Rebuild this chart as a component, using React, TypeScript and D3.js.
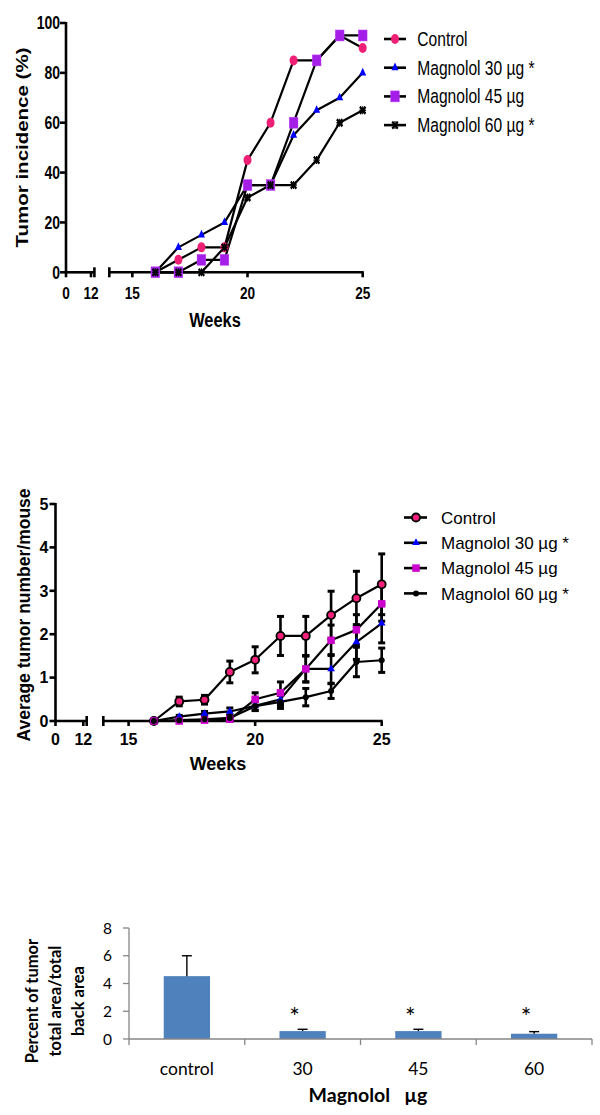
import React from "react";
import * as d3 from "d3";

// ---- data ----
const weeks = [16, 17, 18, 19, 20, 21, 22, 23, 24, 25];
const weekTicks = [0, 12, 15, 20, 25];

const incidenceControl = [0, 5, 10, 10, 45, 60, 85, 85, 95, 90];
const incidence30 = [0, 10, 15, 20, 35, 35, 55, 65, 70, 80];
const incidence45 = [0, 0, 5, 5, 35, 35, 60, 85, 95, 95];
const incidence60 = [0, 0, 0, 10, 30, 35, 35, 45, 60, 65];
const incidenceTicks = [0, 20, 40, 60, 80, 100];

const avgControl = [0, 0.45, 0.49, 1.13, 1.41, 1.96, 1.96, 2.44, 2.83, 3.15];
const errControl = [0, 0.1, 0.1, 0.25, 0.3, 0.45, 0.45, 0.55, 0.62, 0.7];
const avg30 = [0, 0.1, 0.17, 0.22, 0.35, 0.5, 1.2, 1.2, 1.82, 2.25];
const err30 = [0, 0.03, 0.05, 0.08, 0.1, 0.15, 0.3, 0.33, 0.4, 0.45];
const avg45 = [0, 0, 0.02, 0.04, 0.5, 0.65, 1.2, 1.86, 2.1, 2.7];
const err45 = [0, 0, 0.02, 0.03, 0.15, 0.25, 0.3, 0.35, 0.35, 0.4];
const avg60 = [0, 0.02, 0.04, 0.07, 0.34, 0.44, 0.55, 0.69, 1.36, 1.4];
const err60 = [0, 0.02, 0.03, 0.05, 0.1, 0.15, 0.2, 0.17, 0.34, 0.28];
const avgTicks = [0, 1, 2, 3, 4, 5];

const seriesNames = ["Control", "Magnolol 30 µg *", "Magnolol 45 µg", "Magnolol 60 µg *"];

const areaGroups = ["control", "30", "45", "60"];
const areaValues = [4.53, 0.57, 0.57, 0.38];
const areaErrors = [1.47, 0.13, 0.13, 0.15];
const areaStars = ["", "*", "*", "*"];
const areaTicks = [0, 2, 4, 6, 8];

const ARIAL = "'Liberation Sans', Arial, sans-serif";
const CALIBRI = "Lato, 'Open Sans', sans-serif";

// top panel is squeezed horizontally in the original figure
const SQ = 0.8;

const sym = (type, size) => d3.symbol().type(type).size(size)();

const Marker = ({ kind, x, y, sx = 1, small = false }) => {
  const t = `translate(${x},${y}) scale(${sx},1)`;
  if (kind === 0) {
    return small
      ? <circle transform={t} r={4} fill="#f2207a" stroke="#000" strokeWidth={1.8} />
      : <circle transform={t} r={5} fill="#ee1f74" />;
  }
  if (kind === 1) {
    return <path transform={t} d={sym(d3.symbolTriangle, small ? 26 : 34)} fill="#0000ff" />;
  }
  if (kind === 2) {
    const s = small ? 7.5 : 11;
    return <rect transform={t} x={-s / 2} y={-s / 2} width={s} height={s}
      fill={small ? "#cc00cc" : "#a51ee8"} stroke={small ? "none" : "#c050ff"} strokeWidth={0.5} />;
  }
  return small
    ? <circle transform={t} r={3} fill="#000" />
    : <g transform={t}>
        <path d="M-3.5,-3.5L3.5,3.5M-3.5,3.5L3.5,-3.5" stroke="#000" strokeWidth={2.6} />
        <path d="M0,-4V4M-4,0H4" stroke="#000" strokeWidth={1.4} />
      </g>;
};

const BrokenXAxis = ({ x, y0, sx, fontSize, labelY }) => {
  const b1 = x(12) + 3.4;
  const b2 = x(14);
  return (
    <g stroke="#000" strokeWidth={2.6} fill="none">
      <line x1={x(0) - 1} x2={b1} y1={y0} y2={y0} />
      <line x1={b1} x2={b1} y1={y0 - 5} y2={y0 + 5} />
      <line x1={b2} x2={x(25) + 1} y1={y0} y2={y0} />
      <line x1={b2} x2={b2} y1={y0 - 5} y2={y0 + 5} />
      {weekTicks.map((t) => (
        <line key={t} x1={x(t)} x2={x(t)} y1={y0} y2={y0 + 5} />
      ))}
      {weekTicks.map((t) => (
        <text key={"l" + t} transform={`translate(${x(t)},${labelY}) scale(${sx},1)`}
          textAnchor="middle" fontFamily={ARIAL} fontWeight="bold" fontSize={fontSize}
          fill="#000" stroke="none">{t}</text>
      ))}
    </g>
  );
};

const IncidenceChart = () => {
  const x = d3.scaleLinear().domain([0, 12, 14, 25]).range([66, 91, 109.3, 362.7]);
  const y = d3.scaleLinear().domain([0, 100]).range([272.3, 23]);
  const line = d3.line().x((d) => x(d[0])).y((d) => y(d[1]));
  const series = [incidenceControl, incidence30, incidence45, incidence60];
  const xAxisX = x(0);
  return (
    <g>
      {/* y axis */}
      <g stroke="#000" strokeWidth={2.6}>
        <line x1={xAxisX} x2={xAxisX} y1={y(100) - 1} y2={y(0)} />
        {incidenceTicks.map((t) => (
          <line key={t} x1={xAxisX - 6} x2={xAxisX} y1={y(t)} y2={y(t)} />
        ))}
      </g>
      {incidenceTicks.map((t) => (
        <text key={t} transform={`translate(60,${y(t) + 6.3}) scale(${SQ},1)`}
          textAnchor="end" fontFamily={ARIAL} fontWeight="bold" fontSize={17.5}>{t}</text>
      ))}
      <BrokenXAxis x={x} y0={y(0)} sx={SQ} fontSize={17} labelY={298.5} />
      <text transform={`translate(28,147.5) scale(${SQ},1) rotate(-90)`} textAnchor="middle"
        fontFamily={ARIAL} fontWeight="bold" fontSize={20.5}>Tumor incidence (%)</text>
      <text transform={`translate(215,327) scale(${SQ},1)`} textAnchor="middle"
        fontFamily={ARIAL} fontWeight="bold" fontSize={20.5}>Weeks</text>

      {series.map((vals, i) => (
        <path key={i} d={line(weeks.map((w, j) => [w, vals[j]]))} fill="none"
          stroke="#000" strokeWidth={2.2} strokeLinejoin="round" />
      ))}
      {series.map((vals, i) => (
        <g key={"m" + i}>
          {weeks.map((w, j) => <Marker key={j} kind={i} x={x(w)} y={y(vals[j])} sx={SQ} />)}
        </g>
      ))}

      {/* legend */}
      {seriesNames.map((name, i) => {
        const ly = 39 + i * 28.7;
        return (
          <g key={name}>
            <line x1={384} x2={406} y1={ly} y2={ly} stroke="#000" strokeWidth={2.6} />
            <Marker kind={i} x={395} y={ly} sx={SQ} />
            <text transform={`translate(417.3,${ly + 7}) scale(${SQ},1)`} fontFamily={ARIAL}
              fontSize={19.5}>{name}</text>
          </g>
        );
      })}
    </g>
  );
};

const AverageChart = () => {
  const x = d3.scaleLinear().domain([0, 12, 14, 25]).range([55.5, 83.3, 103.3, 381.7]);
  const y = d3.scaleLinear().domain([0, 5]).range([721, 504]);
  const line = d3.line().x((d) => x(d[0])).y((d) => y(d[1]));
  const series = [avgControl, avg30, avg45, avg60];
  const errs = [errControl, err30, err45, err60];
  const xAxisX = x(0);
  return (
    <g>
      <g stroke="#000" strokeWidth={2.6}>
        <line x1={xAxisX} x2={xAxisX} y1={y(5) - 1} y2={y(0)} />
        {avgTicks.map((t) => (
          <line key={t} x1={xAxisX - 6} x2={xAxisX} y1={y(t)} y2={y(t)} />
        ))}
      </g>
      {avgTicks.map((t) => (
        <text key={t} x={48.5} y={y(t) + 5.8} textAnchor="end" fontFamily={ARIAL}
          fontWeight="bold" fontSize={16}>{t}</text>
      ))}
      <BrokenXAxis x={x} y0={y(0)} sx={1} fontSize={16} labelY={745} />
      <text transform="translate(30,615) rotate(-90)" textAnchor="middle" fontFamily={ARIAL}
        fontWeight="bold" fontSize={17.5}>Average tumor number/mouse</text>
      <text x={218} y={770} textAnchor="middle" fontFamily={ARIAL} fontWeight="bold"
        fontSize={18}>Weeks</text>

      {/* error bars */}
      {series.map((vals, i) => (
        <g key={"e" + i} stroke="#000">
          {weeks.map((w, j) => {
            const e = errs[i][j];
            if (!e) return null;
            const cx = x(w);
            return (
              <g key={j}>
                <line x1={cx} x2={cx} y1={y(vals[j] - e)} y2={y(vals[j] + e)} strokeWidth={2.6} />
                <line x1={cx - 3.5} x2={cx + 3.5} y1={y(vals[j] + e)} y2={y(vals[j] + e)} strokeWidth={3} />
                <line x1={cx - 3.5} x2={cx + 3.5} y1={y(vals[j] - e)} y2={y(vals[j] - e)} strokeWidth={3} />
              </g>
            );
          })}
        </g>
      ))}
      {series.map((vals, i) => (
        <path key={i} d={line(weeks.map((w, j) => [w, vals[j]]))} fill="none"
          stroke="#000" strokeWidth={2.2} strokeLinejoin="round" />
      ))}
      {series.map((vals, i) => (
        <g key={"m" + i}>
          {weeks.map((w, j) => <Marker key={j} kind={i} x={x(w)} y={y(vals[j])} small />)}
        </g>
      ))}

      {seriesNames.map((name, i) => {
        const ly = 517.5 + i * 25.3;
        return (
          <g key={name}>
            <line x1={404} x2={427} y1={ly} y2={ly} stroke="#000" strokeWidth={2.6} />
            <Marker kind={i} x={416} y={ly} small />
            <text x={441} y={ly + 6.3} fontFamily={ARIAL} fontSize={17}>{name}</text>
          </g>
        );
      })}
    </g>
  );
};

const AreaChart = () => {
  const x = d3.scaleBand().domain(areaGroups).range([129, 592]).paddingInner(0.6).paddingOuter(0.3);
  const y = d3.scaleLinear().domain([0, 8]).range([1039, 928]);
  const step = x.step();
  const bounds = d3.range(areaGroups.length + 1).map((i) => 129 + i * step);
  return (
    <g>
      {areaGroups.map((g, i) => {
        const bx = x(g);
        const cx = bx + x.bandwidth() / 2;
        const top = y(areaValues[i]);
        const et = y(areaValues[i] + areaErrors[i]);
        return (
          <g key={g}>
            <rect x={bx} y={top} width={x.bandwidth()} height={y(0) - top} fill="#4f81bd" />
            <line x1={cx} x2={cx} y1={top} y2={et} stroke="#000" strokeWidth={1.4} />
            <line x1={cx - 5} x2={cx + 5} y1={et} y2={et} stroke="#000" strokeWidth={1.4} />
            {areaStars[i] && (
              <text x={cx - 8} y={1026} textAnchor="middle" fontFamily={CALIBRI} fontSize={25}>
                {areaStars[i]}
              </text>
            )}
            <text x={cx} y={1074.5} textAnchor="middle" fontFamily={CALIBRI} fontSize={17.5}>{g}</text>
          </g>
        );
      })}
      <g stroke="#868686" strokeWidth={1.3}>
        <line x1={129} x2={129} y1={y(8)} y2={y(0)} />
        <line x1={129} x2={592} y1={y(0)} y2={y(0)} />
        {areaTicks.map((t) => (
          <line key={t} x1={123} x2={129} y1={y(t)} y2={y(t)} />
        ))}
        {bounds.map((b, i) => (
          <line key={i} x1={b} x2={b} y1={y(0)} y2={y(0) + 6} />
        ))}
      </g>
      {areaTicks.map((t) => (
        <text key={t} x={112} y={y(t) + 5.5} textAnchor="end" fontFamily={CALIBRI} fontSize={15.5}>{t}</text>
      ))}
      <g fontFamily={CALIBRI} fontWeight="bold" fontSize={16.5} textAnchor="middle">
        <text transform="translate(38,1001) rotate(-90)">Percent of tumor</text>
        <text transform="translate(61,1001) rotate(-90)">total area/total</text>
        <text transform="translate(84,1001) rotate(-90)">back area</text>
      </g>
      <text x={368} y={1101.5} textAnchor="middle" fontFamily={CALIBRI} fontWeight="bold"
        fontSize={19.5} style={{ whiteSpace: "pre" }}>{"Magnolol   µg"}</text>
    </g>
  );
};

export default function App() {
  return (
    <svg width={600} height={1115} viewBox="0 0 600 1115"
      style={{ position: "absolute", left: 0, top: 0, background: "#fff" }}>
      <rect width={600} height={1115} fill="#fff" />
      <IncidenceChart />
      <AverageChart />
      <AreaChart />
    </svg>
  );
}
